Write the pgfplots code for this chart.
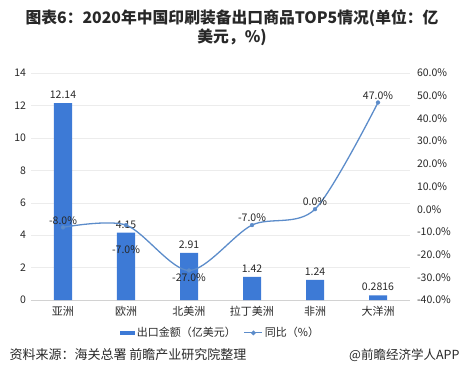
\documentclass[border=0pt]{standalone}
\usepackage{pgfplots}
\pgfplotsset{compat=1.18}
\usepackage{pgfplotstable}
\usepackage{fontspec}
\setmainfont{Noto Sans CJK SC}
\definecolor{barblue}{RGB}{61,122,214}
\definecolor{lineblue}{RGB}{92,140,202}
\definecolor{txt}{RGB}{40,40,40}
\pgfplotstableread{
x val lab
0 12.14 12.14
1 4.15 4.15
2 2.91 2.91
3 1.42 1.42
4 1.24 1.24
5 0.2816 0.2816
}\bars
\pgfplotstableread{
x val lab
0 -8.0 -8.0\%
1 -7.0 -7.0\%
2 -27.0 -27.0\%
3 -7.0 -7.0\%
4 0.0 0.0\%
5 47.0 47.0\%
}\yoy
\pgfplotstableread{
x val lab
0 -8.0 -8.0\%
3 -7.0 -7.0\%
4 0.0 0.0\%
5 47.0 47.0\%
}\yoyabove
\pgfplotstableread{
x val lab
2 -27.0 -27.0\%
}\yoybelow
\pgfplotstableread{
x val lab
1 -7.0 -7.0\%
}\yoyfar
\begin{document}
\begin{tikzpicture}[x=1pt,y=1pt]
\path[use as bounding box] (0,0) rectangle (465,388);
\node[align=center,text=txt,font=\bfseries\fontsize{15.8}{19}\selectfont] at (232,360) {图表6：2020年中国印刷装备出口商品TOP5情况(单位：亿\\美元，\%)};
\begin{axis}[
  scale only axis, width=378pt, height=227pt,
  at={(31.5pt,88pt)}, anchor=south west,
  xmin=-0.5, xmax=5.5, ymin=0, ymax=14,
  ytick={0,2,...,14},
  xtick={0,...,5},
  xticklabels={亚洲,欧洲,北美洲,拉丁美洲,非洲,大洋洲},
  axis x line*=bottom, axis y line*=left,
  y axis line style={draw=none},
  x axis line style={draw=gray!35},
  major tick length=0pt,
  ymajorgrids, grid style={gray!15},
  tick label style={font=\fontsize{10.5}{12}\selectfont, text=txt},
  xticklabel style={font=\fontsize{11}{12}\selectfont, yshift=-3pt},
  /pgf/number format/assume math mode=true,
  yticklabel style={xshift=-2pt},
]
\addplot[ybar, bar width=18pt, fill=barblue, draw=none,
  point meta=explicit symbolic,
  nodes near coords,
  every node near coord/.append style={font=\fontsize{10.5}{12}\selectfont, text=txt, yshift=1pt}]
  table[x=x,y=val,meta=lab] {\bars};
\end{axis}
\begin{axis}[
  scale only axis, width=378pt, height=227pt,
  at={(31.5pt,88pt)}, anchor=south west,
  xmin=-0.5, xmax=5.5, ymin=-40, ymax=60,
  ytick={-40,-30,...,60},
  axis y line*=right, axis x line=none,
  y axis line style={draw=none},
  major tick length=0pt,
  tick label style={font=\fontsize{10.5}{12}\selectfont, text=txt},
  yticklabel={\pgfmathprintnumber[fixed,fixed zerofill,precision=1]{\tick}\%},
  /pgf/number format/assume math mode=true,
  yticklabel style={xshift=4pt},
  legend style={at={(0.5,-0.145)}, anchor=center, draw=none, fill=none,
    legend columns=2, font=\fontsize{11}{12}\selectfont, text=txt,
    /tikz/every even column/.append style={column sep=6pt}},
]
\addlegendimage{area legend, fill=barblue, draw=none, legend image code/.code={\fill[barblue] (0pt,-2pt) rectangle (15pt,2pt);}}
\addlegendentry{出口金额（亿美元）}
\addplot[smooth, color=lineblue, line width=1.3pt, mark=*, mark size=2pt,
  mark options={fill=lineblue, draw=lineblue, line width=0.2pt},
  legend image code/.code={\draw[lineblue, line width=1.1pt] (0pt,0pt) -- (18pt,0pt); \fill[lineblue] (9pt,0pt) circle (1.6pt);}]
  table[x=x,y=val] {\yoy};
\addlegendentry{同比（\%）}
\addplot[draw=none, mark=none, forget plot, point meta=explicit symbolic, nodes near coords,
  every node near coord/.append style={font=\fontsize{10.5}{12}\selectfont, text=txt, anchor=south, inner sep=3pt}]
  table[x=x,y=val,meta=lab] {\yoyabove};
\addplot[draw=none, mark=none, forget plot, point meta=explicit symbolic, nodes near coords,
  every node near coord/.append style={font=\fontsize{10.5}{12}\selectfont, text=txt, anchor=north, inner sep=3pt}]
  table[x=x,y=val,meta=lab] {\yoybelow};
\addplot[draw=none, mark=none, forget plot, point meta=explicit symbolic, nodes near coords,
  every node near coord/.append style={font=\fontsize{10.5}{12}\selectfont, text=txt, anchor=north, inner sep=3pt, yshift=-17pt}]
  table[x=x,y=val,meta=lab] {\yoyfar};
\end{axis}
\node[anchor=west,text=txt,font=\fontsize{13}{15}\selectfont] at (6,33) {资料来源：海关总署 前瞻产业研究院整理};
\node[anchor=east,text=txt,font=\fontsize{12.5}{15}\selectfont] at (463,33) {@前瞻经济学人APP};
\end{tikzpicture}
\end{document}
